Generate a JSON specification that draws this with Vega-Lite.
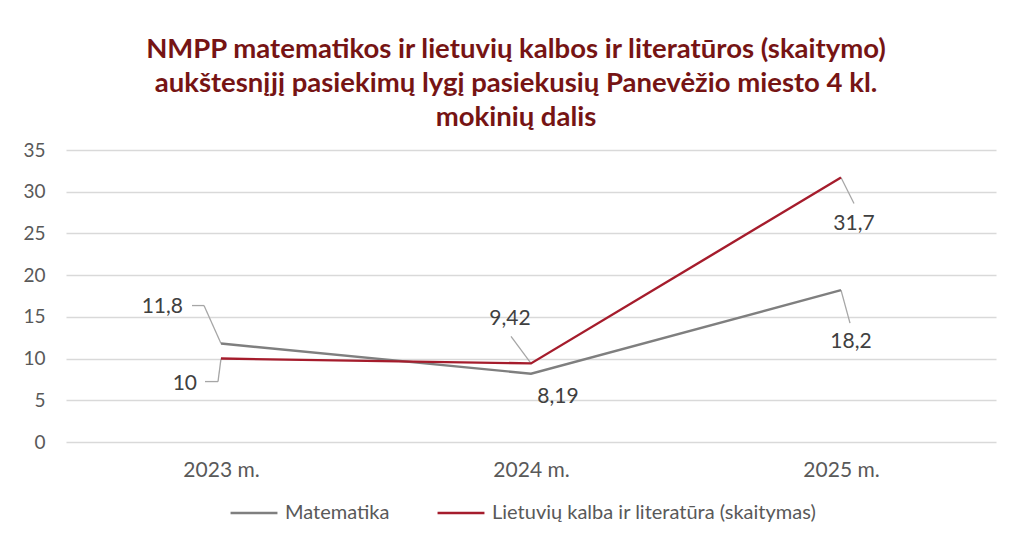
{
  "$schema": "https://vega.github.io/schema/vega-lite/v6.json",
  "autosize": "none",
  "width": 930,
  "height": 292,
  "padding": {"left": 66, "top": 150, "right": 15, "bottom": 101},
  "background": "white",
  "title": {
    "text": [
      "NMPP matematikos ir lietuvių kalbos ir literatūros (skaitymo)",
      "aukštesnįjį pasiekimų lygį pasiekusių Panevėžio miesto 4 kl.",
      "mokinių dalis"
    ],
    "anchor": "middle",
    "frame": "group",
    "font": "Lato",
    "fontSize": 27.5,
    "fontWeight": "bold",
    "color": "#761414",
    "lineHeight": 34,
    "offset": 10,
    "dx": -15
  },
  "data": {
    "values": [
      {"year": "2023 m.", "series": "Matematika", "value": 11.8, "label": "11,8"},
      {"year": "2024 m.", "series": "Matematika", "value": 8.19, "label": "8,19"},
      {"year": "2025 m.", "series": "Matematika", "value": 18.2, "label": "18,2"},
      {"year": "2023 m.", "series": "Lietuvių kalba ir literatūra (skaitymas)", "value": 10, "label": "10"},
      {"year": "2024 m.", "series": "Lietuvių kalba ir literatūra (skaitymas)", "value": 9.42, "label": "9,42"},
      {"year": "2025 m.", "series": "Lietuvių kalba ir literatūra (skaitymas)", "value": 31.7, "label": "31,7"}
    ]
  },
  "encoding": {
    "x": {
      "field": "year", "type": "ordinal",
      "scale": {"type": "point", "padding": 0.5},
      "axis": {
        "title": null, "domain": false, "ticks": false, "labelAngle": 0,
        "labelFont": "Lato", "labelFontSize": 21, "labelColor": "#595959", "labelPadding": 17
      }
    },
    "y": {
      "field": "value", "type": "quantitative",
      "scale": {"domain": [0, 35], "nice": false},
      "axis": {
        "title": null, "domain": false, "ticks": false, "values": [0, 5, 10, 15, 20, 25, 30, 35],
        "labelFont": "Lato", "labelFontSize": 19, "labelColor": "#595959", "labelPadding": 21,
        "grid": true, "gridColor": "#D9D9D9", "gridWidth": 1.3
      }
    }
  },
  "layer": [
    {
      "transform": [{"filter": "datum.year == '2023 m.' && datum.series == 'Matematika'"}],
      "mark": {"type": "rule", "color": "#A6A6A6", "strokeWidth": 1.3, "x2Offset": -17, "y2Offset": -38},
      "encoding": {"x2": {"field": "year"}, "y2": {"field": "value"}}
    },
    {
      "transform": [{"filter": "datum.year == '2023 m.' && datum.series == 'Matematika'"}],
      "mark": {"type": "rule", "color": "#A6A6A6", "strokeWidth": 1.3, "xOffset": -17, "yOffset": -38, "x2Offset": -29, "y2Offset": -38},
      "encoding": {"x2": {"field": "year"}, "y2": {"field": "value"}}
    },
    {
      "transform": [{"filter": "datum.year == '2023 m.' && datum.series != 'Matematika'"}],
      "mark": {"type": "rule", "color": "#A6A6A6", "strokeWidth": 1.3, "x2Offset": -3, "y2Offset": 23},
      "encoding": {"x2": {"field": "year"}, "y2": {"field": "value"}}
    },
    {
      "transform": [{"filter": "datum.year == '2023 m.' && datum.series != 'Matematika'"}],
      "mark": {"type": "rule", "color": "#A6A6A6", "strokeWidth": 1.3, "xOffset": -3, "yOffset": 23, "x2Offset": -16, "y2Offset": 23},
      "encoding": {"x2": {"field": "year"}, "y2": {"field": "value"}}
    },
    {
      "transform": [{"filter": "datum.year == '2024 m.' && datum.series != 'Matematika'"}],
      "mark": {"type": "rule", "color": "#A6A6A6", "strokeWidth": 1.3, "x2Offset": -20, "y2Offset": -27},
      "encoding": {"x2": {"field": "year"}, "y2": {"field": "value"}}
    },
    {
      "transform": [{"filter": "datum.year == '2025 m.' && datum.series != 'Matematika'"}],
      "mark": {"type": "rule", "color": "#A6A6A6", "strokeWidth": 1.3, "x2Offset": 13, "y2Offset": 26},
      "encoding": {"x2": {"field": "year"}, "y2": {"field": "value"}}
    },
    {
      "transform": [{"filter": "datum.year == '2025 m.' && datum.series == 'Matematika'"}],
      "mark": {"type": "rule", "color": "#A6A6A6", "strokeWidth": 1.3, "x2Offset": 9, "y2Offset": 33},
      "encoding": {"x2": {"field": "year"}, "y2": {"field": "value"}}
    },
    {
      "mark": {"type": "line", "strokeWidth": 2.4},
      "encoding": {
        "color": {
          "field": "series", "type": "nominal",
          "scale": {
            "domain": ["Matematika", "Lietuvių kalba ir literatūra (skaitymas)"],
            "range": ["#7F7F7F", "#A51C2C"]
          },
          "legend": {
            "title": null, "orient": "none", "direction": "horizontal",
            "legendX": 163, "legendY": 338,
            "symbolType": "stroke", "symbolSize": 2200, "symbolStrokeWidth": 2.5,
            "labelFont": "Lato", "labelFontSize": 20, "labelColor": "#595959", "labelLimit": 0,
            "labelOffset": 6, "columnPadding": 42
          }
        }
      }
    },
    {
      "transform": [{"filter": "datum.year == '2023 m.' && datum.series == 'Matematika'"}],
      "mark": {"type": "text", "font": "Lato", "fontSize": 21, "color": "#404040", "align": "right", "baseline": "middle", "dx": -38, "dy": -37},
      "encoding": {"text": {"field": "label"}}
    },
    {
      "transform": [{"filter": "datum.year == '2023 m.' && datum.series != 'Matematika'"}],
      "mark": {"type": "text", "font": "Lato", "fontSize": 21, "color": "#404040", "align": "right", "baseline": "middle", "dx": -24, "dy": 25},
      "encoding": {"text": {"field": "label"}}
    },
    {
      "transform": [{"filter": "datum.year == '2024 m.' && datum.series != 'Matematika'"}],
      "mark": {"type": "text", "font": "Lato", "fontSize": 21, "color": "#404040", "align": "center", "baseline": "middle", "dx": -21, "dy": -44},
      "encoding": {"text": {"field": "label"}}
    },
    {
      "transform": [{"filter": "datum.year == '2024 m.' && datum.series == 'Matematika'"}],
      "mark": {"type": "text", "font": "Lato", "fontSize": 21, "color": "#404040", "align": "center", "baseline": "middle", "dx": 27, "dy": 23},
      "encoding": {"text": {"field": "label"}}
    },
    {
      "transform": [{"filter": "datum.year == '2025 m.' && datum.series != 'Matematika'"}],
      "mark": {"type": "text", "font": "Lato", "fontSize": 21, "color": "#404040", "align": "center", "baseline": "middle", "dx": 13, "dy": 46},
      "encoding": {"text": {"field": "label"}}
    },
    {
      "transform": [{"filter": "datum.year == '2025 m.' && datum.series == 'Matematika'"}],
      "mark": {"type": "text", "font": "Lato", "fontSize": 21, "color": "#404040", "align": "center", "baseline": "middle", "dx": 10, "dy": 52},
      "encoding": {"text": {"field": "label"}}
    }
  ],
  "config": {"view": {"stroke": null}}
}
